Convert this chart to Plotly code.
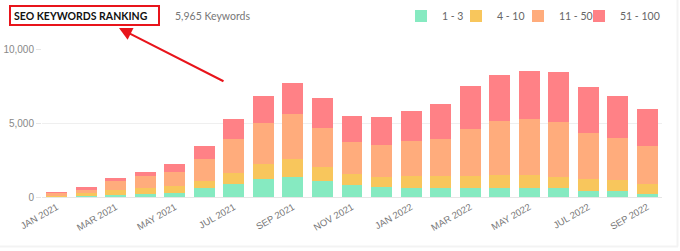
import plotly.graph_objects as go

months = ["JAN 2021", "FEB 2021", "MAR 2021", "APR 2021", "MAY 2021", "JUN 2021",
          "JUL 2021", "AUG 2021", "SEP 2021", "OCT 2021", "NOV 2021", "DEC 2021",
          "JAN 2022", "FEB 2022", "MAR 2022", "APR 2022", "MAY 2022", "JUN 2022",
          "JUL 2022", "AUG 2022", "SEP 2022"]
rank_1_3 = [40, 70, 135, 180, 295, 586, 875, 1212, 1347, 1057, 788, 653,
            630, 586, 586, 606, 606, 586, 404, 384, 229]
rank_4_10 = [40, 180, 335, 426, 425, 518, 768, 1010, 1192, 990, 741, 721,
             764, 808, 855, 902, 875, 788, 808, 741, 646]
rank_11_50 = [190, 268, 587, 788, 943, 1481, 2310, 2788, 3051, 2647, 2154, 2154,
              2357, 2559, 3185, 3610, 3819, 3676, 3098, 2875, 2539]
rank_51_100 = [30, 135, 223, 269, 559, 875, 1347, 1791, 2110, 2020, 1772, 1906,
               2067, 2357, 2874, 3122, 3232, 3368, 3145, 2801, 2551]
series_names = ["1 - 3", "4 - 10", "11 - 50", "51 - 100"]
series_colors = ["#86EAC1", "#F8C65C", "#FFAC7C", "#FF8186"]
tick_months = months[::2]
y_ticks = [0, 5000, 10000]
y_tick_text = ["0", "5,000", "10,000"]

W, H = 680, 251
L, R, T, B = 42, 18, 49, 54
pw, ph = W - L - R, H - T - B

def px(x):
    return (x - L) / pw

def py(y):
    return (H - B - y) / ph

fig = go.Figure()
for name, vals, col in zip(series_names, [rank_1_3, rank_4_10, rank_11_50, rank_51_100], series_colors):
    fig.add_trace(go.Bar(x=months, y=vals, name=name, marker=dict(color=col, line=dict(width=0))))

fig.update_layout(
    width=W, height=H,
    margin=dict(l=L, r=R, t=T, b=B, autoexpand=False),
    barmode="stack", bargap=0.29,
    plot_bgcolor="white", paper_bgcolor="white",
    font=dict(family="Lato, sans-serif", color="#777"),
    showlegend=False,
    xaxis=dict(type="category", tickmode="array", tickvals=tick_months, ticktext=tick_months,
               tickangle=-30, tickfont=dict(size=9.5, color="#777", family="Liberation Sans, Arial"),
               showgrid=False, showline=True, linecolor="#e6e6e6", linewidth=1,
               ticks="", zeroline=False, automargin=False),
    yaxis=dict(range=[0, 10000], tickvals=y_ticks, ticktext=y_tick_text,
               tickfont=dict(size=10, color="#888", family="Liberation Sans, Arial"),
               showgrid=True, gridcolor="#efefef", gridwidth=1, zeroline=False,
               ticks="outside", ticklen=5, tickcolor="#e6e6e6", showline=False, automargin=False),
)

# faint card edges (bottom and right)
fig.add_shape(type="line", xref="paper", yref="paper", x0=px(0), x1=px(678), y0=py(246.5), y1=py(246.5),
              line=dict(color="#f3f3f3", width=2))
fig.add_shape(type="line", xref="paper", yref="paper", x0=px(677.5), x1=px(677.5), y0=py(0), y1=py(246.5),
              line=dict(color="#f3f3f3", width=2))

# legend (drawn as swatches + labels, positioned like the reference)
legend_swatch_x = [415, 470, 532, 593]
for name, col, sx in zip(series_names, series_colors, legend_swatch_x):
    fig.add_shape(type="rect", xref="paper", yref="paper", x0=px(sx), x1=px(sx + 12),
                  y0=py(22), y1=py(10), line=dict(width=0), fillcolor=col)
    fig.add_annotation(x=px(sx + 25), y=py(16), xref="paper", yref="paper",
                       xanchor="left", yanchor="middle", text=name, showarrow=False,
                       font=dict(size=10.5, color="#666", family="Lato, sans-serif"))

fig.add_annotation(x=px(12), y=py(16), xref="paper", yref="paper", xanchor="left", yanchor="middle",
                   text="<b>SEO KEYWORDS RANKING</b>", showarrow=False,
                   font=dict(size=10.5, color="#111", family="Lato, sans-serif"))
fig.add_annotation(x=px(173), y=py(16), xref="paper", yref="paper", xanchor="left", yanchor="middle",
                   text="5,965 Keywords", showarrow=False,
                   font=dict(size=10.5, color="#777", family="Lato, sans-serif"))
fig.add_shape(type="rect", xref="paper", yref="paper", x0=px(10), x1=px(159), y0=py(6), y1=py(25),
              line=dict(color="#E8141B", width=2), fillcolor="rgba(0,0,0,0)")
fig.add_annotation(x=px(119), y=py(28), xref="paper", yref="paper", text="", showarrow=True,
                   ax=106, ay=54, arrowhead=2, arrowsize=1.3, arrowwidth=2, arrowcolor="#E8141B",
                   standoff=0)

fig.write_html("out.html")
